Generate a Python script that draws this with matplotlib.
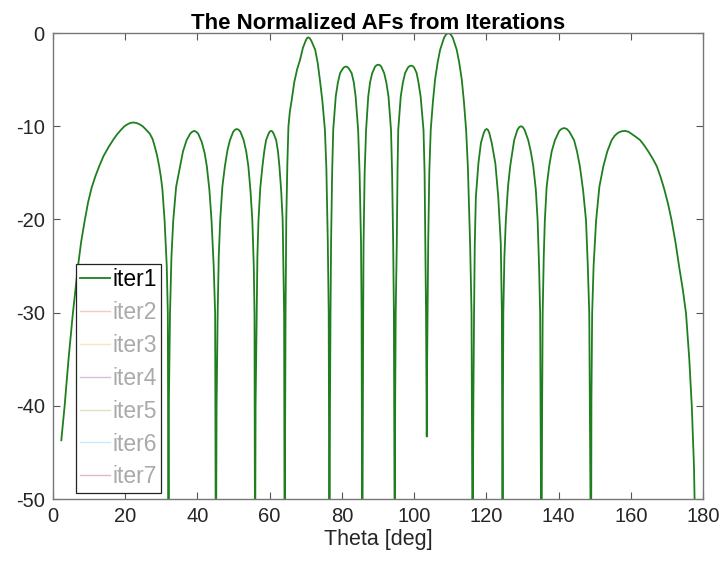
import numpy as np
import matplotlib.pyplot as plt
from matplotlib.lines import Line2D

plt.rcParams['font.family'] = ['Liberation Sans', 'DejaVu Sans']
plt.rcParams['axes.unicode_minus'] = False

# Normalized AF of iter1 (dB), lobe by lobe.
# Values of -60 mark nulls that fall below the axis floor.
theta = [
    2.3, 3.2, 4.3, 5.5, 6.9, 7.8, 8.8, 9.7, 10.7, 11.8, 12.9, 14.0, 15.3, 16.6, 17.7, 18.8, 19.8, 20.6, 21.4, 22.2, 23.1, 24.0, 24.8, 25.6, 26.8, 27.6, 28.2, 28.8, 29.4, 29.9, 30.3, 30.9, 31.5, 31.8, 32.0,
    32.1, 32.4, 32.8, 33.3, 34.1, 35.2, 36.0, 37.0, 38.0, 38.55, 39.1, 39.65, 40.2, 41.2, 42.0, 42.6, 43.3, 43.9, 44.5, 44.9, 45.1,
    45.3, 45.6, 45.9, 46.3, 46.9, 47.6, 48.3, 49.0, 49.9, 50.4, 50.9, 51.4, 51.9, 52.8, 53.5, 54.1, 54.7, 55.2, 55.6, 55.8, 55.95,
    56.1, 56.4, 56.6, 56.9, 57.4, 58.0, 58.5, 59.0, 59.7, 60.05, 60.4, 60.75, 61.1, 61.8, 62.3, 62.7, 63.2, 63.6, 63.8, 64.0, 64.15,
    64.25, 64.4, 64.6, 64.9, 65.2, 65.6, 66.1, 66.8, 67.6, 68.4, 69.2, 70.0, 70.35, 70.7, 71.1, 71.5, 72.6, 73.3, 73.9, 74.6, 75.3, 75.7, 76.1, 76.35, 76.55,
    76.7, 76.85, 77.0, 77.3, 77.6, 78.3, 78.9, 79.5, 80.3, 80.7, 81.1, 81.5, 81.9, 82.7, 83.3, 83.8, 84.5, 84.9, 85.3, 85.45, 85.65,
    85.8, 85.9, 86.0, 86.3, 86.7, 87.3, 87.8, 88.4, 89.2, 89.65, 90.1, 90.5, 90.9, 91.7, 92.3, 92.9, 93.6, 93.9, 94.2, 94.4, 94.65,
    94.75, 94.9, 95.2, 95.4, 95.6, 96.3, 96.9, 97.5, 98.3, 98.75, 99.2, 99.6, 100.0, 100.7, 101.2, 101.8, 102.6, 102.9, 103.1, 103.3, 103.5,
    103.6, 103.9, 104.2, 104.6, 105.2, 105.8, 106.5, 107.2, 108.3, 108.9, 109.5, 110.1, 110.7, 111.8, 112.5, 113.2, 113.8, 114.4, 114.9, 115.5, 115.9, 116.2,
    116.4, 116.6, 116.8, 117.1, 117.8, 118.5, 119.3, 119.7, 120.1, 120.45, 120.8, 121.5, 122.5, 123.3, 124.0, 124.3, 124.5,
    124.6, 124.7, 125.0, 125.4, 126.0, 126.6, 127.7, 128.6, 129.1, 129.6, 130.1, 130.6, 131.6, 132.3, 133.0, 133.7, 134.2, 134.6, 134.9, 135.25,
    135.45, 135.6, 135.9, 136.2, 136.7, 137.4, 138.1, 139.0, 140.2, 140.9, 141.6, 142.3, 143.0, 144.3, 145.1, 145.9, 146.8, 147.6, 148.1, 148.5, 149.0,
    149.1, 149.3, 149.7, 150.4, 151.3, 152.4, 153.5, 154.7, 155.6, 156.5, 157.4, 158.4, 159.4, 160.5, 161.6, 162.6, 163.8, 165.0, 166.1, 167.2, 168.3, 169.3, 170.3, 171.3, 172.4, 173.4, 174.4, 175.3, 176.2, 176.9, 177.5, 177.9,
]
af_iter1 = [
    -43.7, -40.1, -35.0, -30.1, -25.1, -22.4, -20.1, -18.2, -16.6, -15.3, -14.2, -13.2, -12.3, -11.5, -10.9, -10.4, -10.0, -9.8, -9.65, -9.6, -9.65, -9.8, -10.0, -10.3, -10.8, -11.4, -12.2, -13.1, -14.3, -15.5, -16.8, -20.1, -25.0, -30.1, -60,
    -39.4, -30.1, -24.0, -20.1, -16.5, -14.3, -12.7, -11.5, -10.8, -10.6, -10.5, -10.6, -10.8, -11.7, -12.9, -14.3, -16.8, -20.1, -25.0, -30.1, -60,
    -40.0, -30.1, -24.0, -20.1, -16.5, -14.3, -12.6, -11.5, -10.6, -10.38, -10.3, -10.38, -10.6, -11.5, -12.7, -14.3, -17.0, -20.1, -25.0, -30.1, -60,
    -40.0, -30.1, -24.0, -20.1, -16.6, -14.3, -12.7, -11.5, -10.8, -10.57, -10.5, -10.57, -10.8, -11.5, -12.7, -14.3, -17.0, -20.1, -25.0, -30.1, -60,
    -45.0, -30.0, -20.0, -14.0, -10.0, -8.4, -7.2, -5.3, -3.9, -2.9, -1.6, -0.8, -0.55, -0.47, -0.57, -0.8, -1.8, -3.2, -5.0, -7.3, -10.4, -14.5, -22.5, -30.0, -60,
    -40.0, -30.0, -22.6, -15.0, -10.4, -6.8, -5.3, -4.3, -3.8, -3.65, -3.6, -3.65, -3.8, -4.3, -5.3, -6.8, -10.4, -15.0, -22.6, -30.0, -60,
    -40.0, -30.0, -22.6, -15.0, -10.4, -6.8, -5.3, -4.3, -3.6, -3.45, -3.4, -3.45, -3.6, -4.3, -5.3, -6.8, -10.4, -15.0, -22.6, -30.0, -60,
    -40.0, -30.0, -22.6, -15.0, -10.4, -6.8, -5.3, -4.3, -3.7, -3.55, -3.5, -3.55, -3.7, -4.3, -5.3, -6.8, -10.4, -15.0, -22.6, -30.0, -43.3,
    -35.4, -22.6, -15.0, -10.4, -7.4, -5.0, -3.2, -1.8, -0.5, -0.13, 0.0, -0.13, -0.5, -1.8, -3.2, -5.0, -7.4, -10.4, -14.5, -22.6, -30.0, -60,
    -40.0, -30.0, -22.6, -17.6, -14.0, -11.8, -10.7, -10.4, -10.3, -10.4, -10.7, -11.8, -14.0, -17.6, -22.6, -30.0, -60,
    -40.0, -30.1, -24.0, -20.1, -16.5, -14.3, -11.5, -10.4, -10.1, -10.0, -10.1, -10.4, -11.5, -12.7, -14.3, -16.8, -20.1, -25.0, -30.1, -60,
    -40.0, -30.1, -24.0, -20.1, -16.5, -14.3, -12.7, -11.5, -10.5, -10.27, -10.2, -10.3, -10.6, -11.5, -12.7, -14.3, -16.9, -20.1, -25.0, -30.1, -60,
    -39.4, -30.1, -25.0, -20.1, -16.5, -14.3, -12.7, -11.5, -11.0, -10.7, -10.55, -10.5, -10.6, -10.9, -11.2, -11.5, -12.1, -12.8, -13.5, -14.3, -15.5, -16.8, -18.3, -20.1, -22.5, -25.1, -27.5, -30.1, -35.0, -40.1, -46.5, -55.0,
]

labels = ['iter1', 'iter2', 'iter3', 'iter4', 'iter5', 'iter6', 'iter7']
# MATLAB default line order; iter2..iter7 are hidden, only their legend entries remain
iter_colors = ['#1f7f1f', '#d95319', '#edb120', '#7e2f8e', '#77ac30', '#4dbeee', '#a2142f']

fig = plt.figure(figsize=(7.22, 5.69), dpi=100)
ax = fig.add_axes([0.0734, 0.123, 0.9003, 0.819])

ax.plot(theta, af_iter1, color=iter_colors[0], linewidth=1.3)

ax.set_xlim(0, 180)
ax.set_ylim(-50, 0)
ax.set_xticks(np.arange(0, 181, 20))
ax.set_yticks(np.arange(-50, 1, 10))
ax.tick_params(direction='in', top=True, right=True, length=5, width=0.8,
               color='#555555', labelcolor='#262626', labelsize=14.5, pad=6)
for s in ax.spines.values():
    s.set_color('#777777')
    s.set_linewidth(1.0)

ax.set_xlabel('Theta [deg]', fontsize=15.5, color='#262626', labelpad=2)
ax.set_title('The Normalized AFs from Iterations', fontsize=16, fontweight='bold', pad=3)

handles = [Line2D([], [], color=iter_colors[0], linewidth=1.3)]
for c in iter_colors[1:]:
    handles.append(Line2D([], [], color=c, linewidth=1.0, alpha=0.3))
leg = ax.legend(handles, labels, loc='lower left', bbox_to_anchor=(0.035, 0.013),
                fontsize=16.5, handlelength=1.3, handletextpad=0.1,
                labelspacing=0.43, borderpad=0.2, borderaxespad=0,
                fancybox=False, framealpha=1, edgecolor='#222222')
leg.get_frame().set_linewidth(0.9)
for i, t in enumerate(leg.get_texts()):
    t.set_color('#000000' if i == 0 else '#aaaaaa')

fig.savefig('out.png', dpi=100)
